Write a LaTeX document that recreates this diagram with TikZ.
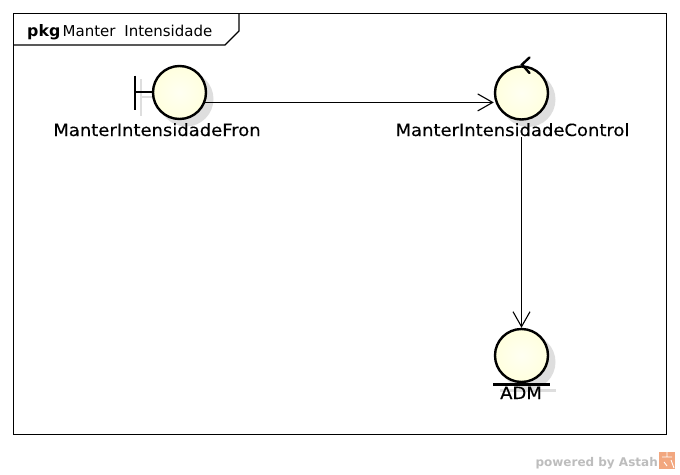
\documentclass[tikz,border=0pt]{standalone}
\usepackage{fontspec}
\setmainfont{DejaVu Sans}
\newfontfamily\widefont[FakeStretch=1.07,FakeBold=0.25]{DejaVu Sans}
\usetikzlibrary{arrows.meta}
\definecolor{shade}{HTML}{DEDEDE}
\definecolor{wm}{HTML}{BDBDBD}
\definecolor{logo}{HTML}{F2A77F}
\definecolor{discin}{HTML}{FFFFF2}
\definecolor{discout}{HTML}{FFFFDE}
\tikzset{
 x=1pt,y=-1pt,
 robust/.style={circle,draw=black,line width=2.4pt,inner sep=0pt,minimum size=53pt,shading=radial,inner color=discin,outer color=discout},
 shadowdisc/.style={circle,fill=shade,inner sep=0pt,minimum size=55pt},
 cap label/.style={font=\widefont\fontsize{16.8}{20}\selectfont,inner sep=0pt,anchor=base},
 conn/.style={line width=1.1pt,-{Straight Barb[length=15pt,width=17pt,line width=1.1pt]}},
 thick bar/.style={line width=2.4pt},
 shade bar/.style={line width=2.4pt,draw=shade},
}
\begin{document}
\begin{tikzpicture}
\useasboundingbox (0,0) rectangle (680,474);
% frame
\draw[line width=1.1pt] (13.5,13.5) rectangle (666.5,434.5);
\draw[line width=1.1pt] (239,13.5) -- (239,31) -- (225,45) -- (13.5,45);
\node[inner sep=0pt,anchor=base west,font=\fontsize{15.8}{18}\selectfont\bfseries] (pkg) at (27,36) {pkg};
\node[inner sep=0pt,anchor=base west,font=\fontsize{15}{18}\selectfont] (title) at (62.5,36) {Manter\hspace{4pt} Intensidade};
% shadows
\node[shadowdisc] at (186,99) {};
\node[shadowdisc] at (528,99.5) {};
\node[shadowdisc] at (528,362) {};
\draw[shade bar] (141,79) -- (141,116);
\draw[shade bar] (141,97) -- (158,97);
\draw[shade bar] (500,390.5) -- (556,390.5);
% boundary
\draw[thick bar] (135,75.5) -- (135,110);
\draw[thick bar] (135,92) -- (153,92);
\node[robust] (front) at (179.5,92.5) {};
\node[cap label] (frontlabel) at (157,136) {ManterIntensidadeFron};
% control
\node[robust] (control) at (521.5,93) {};
\draw[line width=2.4pt,line cap=round] (529.5,57.5) -- (522,64.5) -- (529.5,73);
\node[cap label] (controllabel) at (512.5,136) {ManterIntensidadeControl};
% entity
\node[robust] (adm) at (521.5,355.5) {};
\draw[thick bar] (493,384.5) -- (550,384.5);
\node[cap label] (admlabel) at (521,399) {ADM};
% connectors
\draw[conn] (front.-21) -- (control.west |- front.-21);
\draw[conn] (controllabel.south -| adm.north) ++(0,1) -- (adm.north);
% watermark
\node[inner sep=0pt,anchor=base east,font=\fontsize{12}{14}\selectfont\bfseries,text=wm] (wmark) at (658,466) {powered by Astah};
\fill[logo] (659,452) rectangle (675,469);
\draw[white,line width=0.9pt] (662,457) -- (672,457) (667,452) -- (667,457) (664,462) -- (667,466) (671,460) -- (674,468);
\end{tikzpicture}
\end{document}
